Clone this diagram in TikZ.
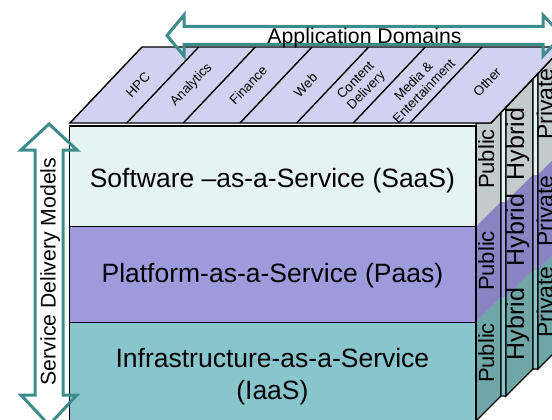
\documentclass[tikz,border=0pt]{standalone}
\usepackage{fontspec}
\setmainfont{Liberation Sans}
\definecolor{saasF}{HTML}{E6F3F3}
\definecolor{paasF}{HTML}{9D9BDB}
\definecolor{iaasF}{HTML}{89C5CC}
\definecolor{topF}{HTML}{D2D2F0}
\definecolor{saasS}{HTML}{C3CBCB}
\definecolor{paasS}{HTML}{8A84C4}
\definecolor{iaasS}{HTML}{6FA7A9}
\definecolor{teal}{HTML}{3D8C8C}
\begin{document}
\begin{tikzpicture}[x=1pt,y=-1pt,line join=miter,
  edge/.style={draw=black,line width=1.4pt},
  arrowline/.style={draw=teal,line width=3pt},
  mainlbl/.style={font=\fontsize{26.5}{32}\selectfont,anchor=base,inner sep=0pt},
  sidelbl/.style={rotate=90,anchor=base,inner sep=0pt},
  toplbl/.style={rotate=46,font=\fontsize{13.3}{14.5}\selectfont,align=center,inner sep=0pt}]
\useasboundingbox (0,0) rectangle (552,420);
\begin{scope}
\clip (0,0) rectangle (552,420);
% ---- side slabs ----
% Public slab
\fill[saasS] (476,123) -- (491,123) -- (501,112.4) -- (501,201.7) -- (476,226.7) -- cycle;
\fill[paasS] (476,226.7) -- (501,201.7) -- (501,297.3) -- (476,322.3) -- cycle;
\fill[iaasS] (476,322.3) -- (501,297.3) -- (501,396) -- (476,421) -- cycle;
\draw[edge] (476,123) -- (491,123) -- (501,112.4) -- (501,396) -- (476,421) -- cycle;
% gap 1
\fill[saasF] (501,112.4) -- (506,107.2) -- (506,201.7) -- (501,201.7) -- cycle;
\fill[paasF] (501,201.7) rectangle (506,297.3);
\fill[iaasF] (501,297.3) rectangle (506,396);
\draw[edge] (501,112.4) -- (506,107.2) -- (506,396) -- (501,396) -- cycle;
% Hybrid slab
\fill[saasS] (506,107.2) -- (533,78.7) -- (533,174.7) -- (506,201.7) -- cycle;
\fill[paasS] (506,201.7) -- (533,174.7) -- (533,270.3) -- (506,297.3) -- cycle;
\fill[iaasS] (506,297.3) -- (533,270.3) -- (533,369) -- (506,396) -- cycle;
\draw[edge] (506,107.2) -- (533,78.7) -- (533,369) -- (506,396) -- cycle;
% gap 2
\fill[saasF] (533,78.7) -- (538,73.4) -- (538,174.7) -- (533,174.7) -- cycle;
\fill[paasF] (533,174.7) rectangle (538,270.3);
\fill[iaasF] (533,270.3) rectangle (538,369);
\draw[edge] (533,78.7) -- (538,73.4) -- (538,369) -- (533,369) -- cycle;
% Private slab
\fill[saasS] (538,73.4) -- (565,44.9) -- (565,147.7) -- (538,174.7) -- cycle;
\fill[paasS] (538,174.7) -- (565,147.7) -- (565,243.3) -- (538,270.3) -- cycle;
\fill[iaasS] (538,270.3) -- (565,243.3) -- (565,342) -- (538,369) -- cycle;
\draw[edge] (538,73.4) -- (565,44.9) -- (565,342) -- (538,369) -- cycle;
% ---- front face ----
\fill[saasF] (69.5,126) rectangle (476,226.7);
\fill[paasF] (69.5,226.7) rectangle (476,322.3);
\fill[iaasF] (69.5,322.3) rectangle (476,430);
\draw[edge] (69.5,430) -- (69.5,126) -- (476,126) -- (476,430);
\draw[edge] (69.5,226.7) -- (476,226.7);
\draw[edge] (69.5,322.3) -- (476,322.3);
% ---- top face ----
\filldraw[topF,edge] (70,123) -- (491,123) -- (563,47) -- (142,47) -- cycle;
\foreach \x in {126.7,183.3,240,296.7,353.3,410}{
  \draw[edge] (\x,123) -- ({\x+72},47);
}
\end{scope}
% ---- top labels ----
\node[toplbl] (hpc) at (138,85) {HPC};
\node[toplbl] (ana) at (191.5,85) {Analytics};
\node[toplbl] (fin) at (248.2,85) {Finance};
\node[toplbl] (web) at (305.5,85) {Web};
\node[toplbl] (cd) at (361.5,86) {Content\\Delivery};
\node[toplbl] (me) at (418.5,86) {Media \&\\Entertainment};
\node[toplbl] (oth) at (487,82) {Other};
% ---- front labels ----
\node[mainlbl] (saas) at (272.4,187) {Software –as-a-Service (SaaS)};
\node[mainlbl] (paas) at (272.4,282.7) {Platform-as-a-Service (Paas)};
\node[mainlbl] (iaas1) at (272.4,367) {Infrastructure-as-a-Service};
\node[mainlbl] (iaas2) at (272.4,399) {(IaaS)};
% ---- side labels ----
\begin{scope}
\clip (0,0) rectangle (552,420);
\node[sidelbl,font=\fontsize{22}{26}\selectfont] (pub1) at (494,159) {Public};
\node[sidelbl,font=\fontsize{22}{26}\selectfont] (pub2) at (494,261) {Public};
\node[sidelbl,font=\fontsize{22}{26}\selectfont] (pub3) at (494,353) {Public};
\node[sidelbl,font=\fontsize{25}{29}\selectfont] (hyb1) at (524,144) {Hybrid};
\node[sidelbl,font=\fontsize{25}{29}\selectfont] (hyb2) at (524,230) {Hybrid};
\node[sidelbl,font=\fontsize{25}{29}\selectfont] (hyb3) at (524,324) {Hybrid};
\node[sidelbl,font=\fontsize{23}{27}\selectfont] (pri1) at (553,104) {Private};
\node[sidelbl,font=\fontsize{23}{27}\selectfont] (pri2) at (553,211) {Private};
\node[sidelbl,font=\fontsize{23}{27}\selectfont] (pri3) at (553,302) {Private};
% ---- arrows ----
\draw[arrowline] (167,35.5) -- (184,15) -- (184,26.5) -- (543,26.5) -- (543,15) -- (562,35.5)
  -- (543,56) -- (543,44.5) -- (184,44.5) -- (184,56) -- cycle;
\draw[arrowline] (49,124) -- (77,150) -- (63,150) -- (63,395) -- (77,395) -- (49,425)
  -- (21,395) -- (35,395) -- (35,150) -- (21,150) -- cycle;
\end{scope}
\node[font=\fontsize{21.3}{25}\selectfont,anchor=base,inner sep=0pt] (appdom) at (364.5,43.3) {Application Domains};
\node[sidelbl,font=\fontsize{21.2}{25}\selectfont] (sdm) at (55.5,271.5) {Service Delivery Models};
\end{tikzpicture}
\end{document}
